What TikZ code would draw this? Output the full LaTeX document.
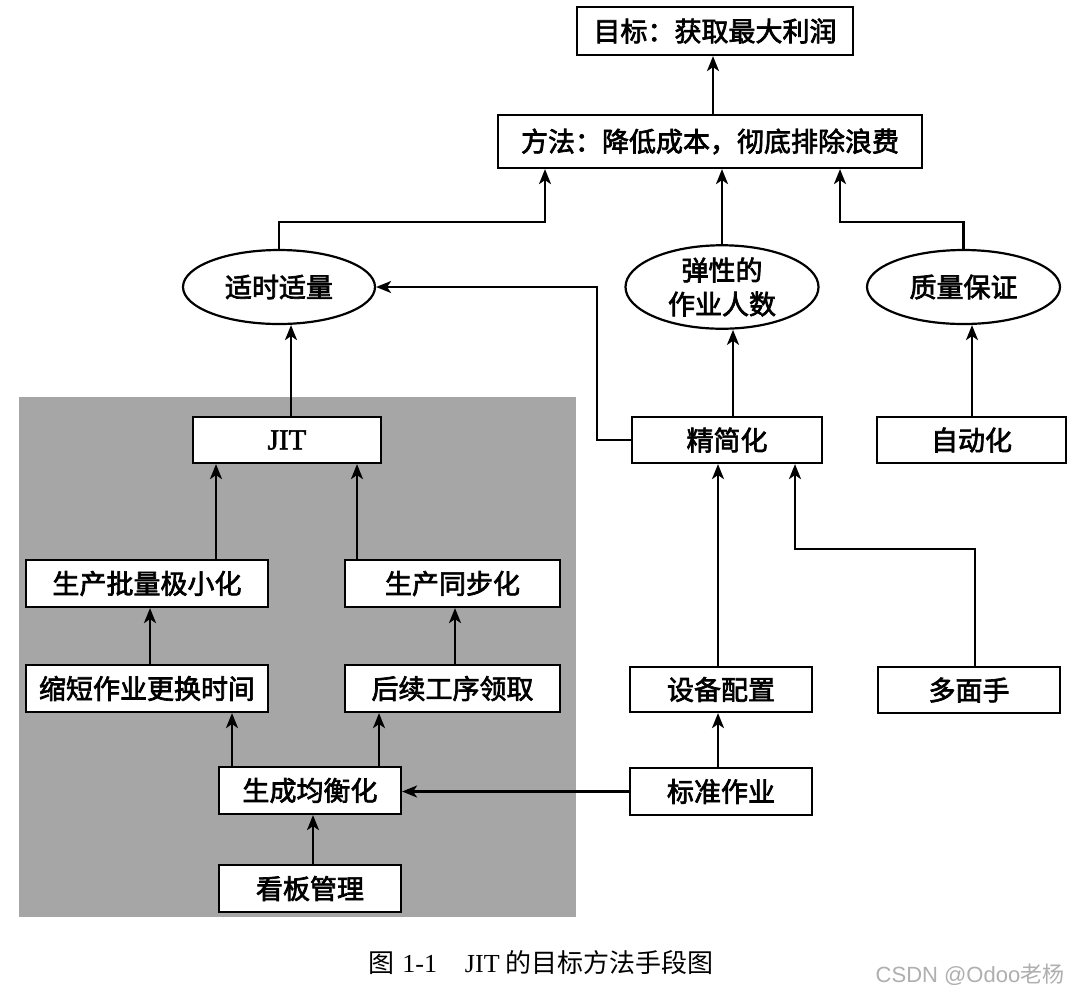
\documentclass[tikz,border=0pt]{standalone}
\usepackage{fontspec}
\newfontfamily\cjk{Noto Sans CJK SC}
\newfontfamily\cjkm{Noto Sans CJK SC}[FakeBold=2.5]
\newfontfamily\serifL{Liberation Serif}
\newfontfamily\serifM{Liberation Serif}[FakeBold=2]
\usetikzlibrary{arrows.meta,shapes.geometric}
\begin{document}
\begin{tikzpicture}[x=0.5pt,y=-0.5pt,
  box/.style={draw,line width=1.1pt,fill=white,inner sep=0pt,font=\cjkm\fontsize{13.5}{15}\selectfont},
  ell/.style={ellipse,draw,line width=1.1pt,fill=white,inner sep=0pt,minimum width=96pt,minimum height=37pt,align=center,font=\cjkm\fontsize{13.5}{15}\selectfont},
  arr/.style={-{Stealth[length=7.5pt,width=6pt,inset=2pt]},line width=1.1pt},
  ln/.style={line width=1.1pt}]
\useasboundingbox[fill=white] (0,0) rectangle (1076,992);
\fill[fill={rgb,255:red,166;green,166;blue,166}] (19,397) rectangle (576,917);
% top
\node[box,minimum width=138pt,minimum height=24pt] (top) at (715,31) {目标：获取最大利润};
\node[box,minimum width=212pt,minimum height=26.5pt] (method) at (710,141.5) {方法：降低成本，彻底排除浪费};
% ellipses
\node[ell] (e1) at (279,287) {适时适量};
\node[ell,minimum width=96.5pt] (e2) at (722,287) {弹性的\\[2pt]作业人数};
\node[ell,minimum width=96.5pt] (e3) at (963.5,287) {质量保证};
% left group
\node[box,minimum width=94pt,minimum height=23pt,font=\serifM\fontsize{14.5}{15}\selectfont] (jit) at (287,440) {JIT};
\node[box,minimum width=121pt,minimum height=23.5pt] (pl) at (147,583.5) {生产批量极小化};
\node[box,minimum width=107.5pt,minimum height=23.5pt] (tb) at (452.5,583.5) {生产同步化};
\node[box,minimum width=121pt,minimum height=23.5pt] (sd) at (147,688.5) {缩短作业更换时间};
\node[box,minimum width=107.5pt,minimum height=23.5pt] (hx) at (452.5,688.5) {后续工序领取};
\node[box,minimum width=91pt,minimum height=23.5pt] (jh) at (310,790.5) {生成均衡化};
\node[box,minimum width=91pt,minimum height=23.5pt] (kb) at (310,888.5) {看板管理};
% right group
\node[box,minimum width=95pt,minimum height=23pt] (jj) at (727,440) {精简化};
\node[box,minimum width=94.5pt,minimum height=23pt] (zd) at (971.5,440) {自动化};
\node[box,minimum width=91pt,minimum height=22.5pt] (sb) at (721,689.5) {设备配置};
\node[box,minimum width=91pt,minimum height=23pt] (dm) at (969,690) {多面手};
\node[box,minimum width=91pt,minimum height=23.5pt] (bz) at (721,791.5) {标准作业};
% helper coordinates
\coordinate (cA) at (713,0);
\coordinate (c291) at (291,0);
\coordinate (c216) at (216,0);
\coordinate (c357) at (357,0);
\coordinate (c150) at (150,0);
\coordinate (c455) at (455,0);
\coordinate (c232) at (232,0);
\coordinate (c379) at (379,0);
\coordinate (c313) at (313,0);
\coordinate (c733) at (733,0);
\coordinate (c972) at (972,0);
\coordinate (c718) at (718,0);
\coordinate (c975) at (975,0);
\coordinate (k1) at (545,222);
\coordinate (k3) at (840,222);
\coordinate (k5) at (597,287);
\coordinate (k6) at (795,549);
% connectors
\draw[arr] (method.north -| cA) -- (top.south -| cA);
\draw[arr] (e1.north) |- (k1) -- (method.south -| k1);
\draw[arr] (e2.north) -- (method.south -| e2.north);
\draw[arr] (e3.north) |- (k3) -- (method.south -| k3);
\draw[arr] (jit.north -| c291) -- (e1.south -| c291);
\draw[arr] (pl.north -| c216) -- (jit.south -| c216);
\draw[arr] (tb.north -| c357) -- (jit.south -| c357);
\draw[arr] (sd.north -| c150) -- (pl.south -| c150);
\draw[arr] (hx.north -| c455) -- (tb.south -| c455);
\draw[arr] (jh.north -| c232) -- (sd.south -| c232);
\draw[arr] (jh.north -| c379) -- (hx.south -| c379);
\draw[arr] (kb.north -| c313) -- (jh.south -| c313);
\draw[arr] (jj.north -| c733) -- (e2.south -| c733);
\draw[arr] (zd.north -| c972) -- (e3.south -| c972);
\draw[arr] (jj.west) -| (k5) -- (e1.east);
\draw[arr] (sb.north -| c718) -- (jj.south -| c718);
\draw[arr] (dm.north -| c975) |- (k6) -- (jj.south -| k6);
\draw[arr] (bz.north -| c718) -- (sb.south -| c718);
\draw[arr] (bz.west) -- (jh.east |- bz.west);
% caption
\node[font=\cjk\fontsize{13}{14}\selectfont,inner sep=0pt] (cap) at (541,963) {图\hspace{4pt}{\serifL 1-1}\hspace{14pt}{\serifL JIT}\hspace{3pt}的目标方法手段图};
\node[font=\fontspec{Liberation Sans}\fontsize{11}{12}\selectfont,text={rgb,255:red,175;green,175;blue,175},inner sep=0pt] (wm) at (970,975) {CSDN @Odoo{\cjk 老杨}};
\end{tikzpicture}
\end{document}
